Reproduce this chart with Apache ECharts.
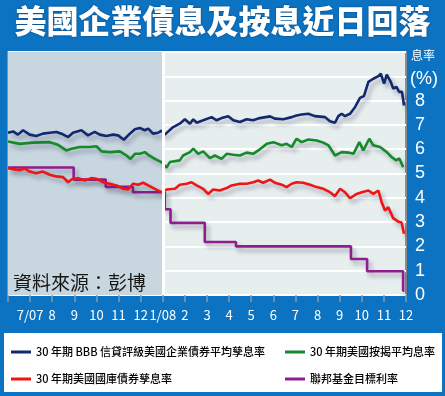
<!DOCTYPE html>
<html>
<head>
<meta charset="utf-8">
<script src="https://cdn.jsdelivr.net/npm/echarts@6/dist/echarts.min.js"></script>
<style>
html,body{margin:0;padding:0;background:#0b73c2;}
#c{width:445px;height:396px;}
</style>
</head>
<body>
<div id="c"></div>
<script>
// x positions are in months since the chart's left edge (tick 1 = 7/07, tick 7 = 1/08, tick 18 = 12/08)
const monthLabels = ['', '7/07', '8', '9', '10', '11', '12', '1/08', '2', '3', '4', '5', '6', '7', '8', '9', '10', '11', '12'];
const yLabels = ['0', '1', '2', '3', '4', '5', '6', '7', '8', '', ''];

const seriesNames = [
  '30 年期 BBB 信貸評級美國企業債券平均孳息率',
  '30 年期美國按揭平均息率',
  '30 年期美國國庫債券孳息率',
  '聯邦基金目標利率'
];

const bbbData = [[0.00,6.68],[0.23,6.73],[0.45,6.60],[0.68,6.78],[0.98,6.60],[1.28,6.54],[1.58,6.64],[1.89,6.68],[2.19,6.71],[2.42,6.64],[2.72,6.50],[2.94,6.68],[3.32,6.78],[3.62,6.57],[3.92,6.71],[4.15,6.60],[4.45,6.54],[4.75,6.60],[4.98,6.57],[5.24,6.39],[5.51,6.64],[5.74,6.82],[5.96,6.87],[6.19,6.78],[6.34,6.85],[6.56,6.64],[6.79,6.68],[6.95,6.76],[7.09,6.60],[7.47,6.91],[7.77,7.05],[8.00,7.23],[8.23,7.05],[8.38,7.23],[8.53,7.09],[8.83,7.19],[9.21,7.32],[9.43,7.19],[9.66,7.28],[9.96,7.36],[10.19,7.19],[10.49,7.12],[10.79,7.23],[11.09,7.19],[11.39,7.28],[11.85,7.35],[12.07,7.26],[12.45,7.23],[12.83,7.32],[13.05,7.39],[13.28,7.43],[13.58,7.46],[13.88,7.36],[14.34,7.32],[14.56,7.15],[14.79,7.09],[14.94,7.36],[15.09,7.46],[15.24,7.36],[15.47,7.46],[15.70,7.74],[15.92,8.11],[16.10,8.19],[16.30,8.77],[16.52,8.90],[16.75,9.01],[16.86,9.11],[17.01,8.70],[17.13,9.07],[17.31,8.77],[17.42,8.50],[17.57,8.56],[17.69,8.36],[17.82,8.36],[17.91,7.80]];

const mortgageData = [[0.00,6.32],[0.53,6.22],[1.13,6.27],[1.89,6.29],[2.26,6.18],[2.64,5.95],[2.87,6.02],[3.25,6.09],[3.70,6.09],[4.00,6.12],[4.23,5.91],[4.60,5.88],[5.06,5.91],[5.36,5.74],[5.54,5.60],[5.74,5.81],[5.96,5.81],[6.19,5.88],[6.34,5.77],[6.64,5.60],[6.94,5.47],[7.17,5.24],[7.32,5.47],[7.77,5.54],[7.92,5.74],[8.23,5.88],[8.38,6.02],[8.60,5.81],[8.83,5.91],[9.13,5.63],[9.36,5.74],[9.66,5.60],[9.89,5.81],[10.19,5.77],[10.49,5.74],[10.79,5.86],[11.09,5.81],[11.32,5.95],[11.70,6.22],[12.00,6.29],[12.38,6.16],[12.60,6.22],[12.83,6.09],[13.05,6.43],[13.28,6.29],[13.58,6.40],[13.96,6.36],[14.26,6.27],[14.49,6.16],[14.79,5.74],[15.09,5.88],[15.39,5.86],[15.62,5.81],[15.89,6.29],[16.07,5.95],[16.34,6.43],[16.52,6.16],[16.82,6.09],[17.13,5.88],[17.36,5.67],[17.56,5.54],[17.70,5.62],[17.87,5.26]];

const treasuryData = [[0.00,5.22],[0.30,5.17],[0.53,5.13],[0.76,5.20],[0.98,5.08],[1.28,5.01],[1.58,5.08],[1.89,4.95],[2.19,4.88],[2.49,4.85],[2.72,4.64],[2.87,4.75],[3.17,4.81],[3.47,4.71],[3.77,4.81],[4.00,4.78],[4.30,4.64],[4.60,4.58],[4.91,4.51],[5.21,4.37],[5.43,4.34],[5.66,4.58],[5.89,4.54],[6.11,4.62],[6.34,4.51],[6.64,4.37],[6.94,4.23],[7.17,4.34],[7.55,4.37],[7.77,4.54],[8.08,4.58],[8.30,4.64],[8.53,4.51],[8.83,4.37],[9.05,4.16],[9.28,4.34],[9.58,4.30],[9.89,4.40],[10.11,4.51],[10.49,4.58],[10.79,4.58],[11.09,4.64],[11.32,4.71],[11.54,4.62],[11.85,4.75],[12.07,4.62],[12.38,4.54],[12.60,4.44],[12.83,4.58],[13.05,4.64],[13.35,4.62],[13.66,4.54],[13.96,4.44],[14.26,4.37],[14.56,4.23],[14.79,4.07],[15.02,4.37],[15.24,4.23],[15.47,3.98],[15.77,4.16],[16.00,4.23],[16.30,4.30],[16.52,4.16],[16.75,4.30],[16.90,3.82],[17.05,3.48],[17.20,3.61],[17.42,3.16],[17.69,3.00],[17.80,2.98],[17.91,2.52]];

const fedFundsData = [[0,5.25],[2.97,4.75],[4.42,4.45],[5.65,4.23],[7.09,3.53],[7.35,2.97],[8.90,2.18],[10.31,2.00],[15.51,1.48],[16.24,0.98],[17.87,0.18],[17.93,0.18]];

const shadeRange = [0, 7]; // 2007 part of the chart (before 1/08)

const colors = ['#13286f', '#168a2a', '#f01414', '#8e1d8e'];
const cjk = "'Noto Sans CJK TC',sans-serif";

const chart = echarts.init(document.getElementById('c'), null, {renderer: 'canvas'});

const lineShadow = {shadowColor: 'rgba(40,50,80,0.35)', shadowBlur: 4, shadowOffsetX: 3, shadowOffsetY: 4};

function mkLine(name, data, color, extra) {
  return Object.assign({
    name: name,
    type: 'line',
    data: data,
    showSymbol: false,
    symbol: 'none',
    color: color,
    lineStyle: Object.assign({width: 2.6, color: color}, lineShadow),
    animation: false,
    z: 3
  }, extra || {});
}

const legendText = {fontSize: 11, lineHeight: 16, color: '#000', fontFamily: cjk, fontWeight: 500};

chart.setOption({
  backgroundColor: '#0b73c2',
  animation: false,
  grid: {left: 8, right: 39, top: 52, bottom: 101, show: true, backgroundColor: '#e7eeee', borderColor: '#8e8e8e', borderWidth: 2},
  xAxis: {
    type: 'value', min: 0, max: 18, interval: 1,
    axisLine: {show: false},
    axisTick: {show: true, length: 7, lineStyle: {color: '#8b9bab', width: 1.5}},
    splitLine: {show: false},
    axisLabel: {color: '#fff', fontSize: 13, margin: 14, fontFamily: cjk, hideOverlap: false,
      formatter: v => monthLabels[Math.round(v)]}
  },
  yAxis: {
    type: 'value', position: 'right', min: 0, max: 10, interval: 1,
    axisLine: {show: false}, axisTick: {show: false},
    splitLine: {show: true, lineStyle: {color: '#ffffff', width: 2}},
    axisLabel: {color: '#fff', fontSize: 18, margin: 9, fontFamily: "'Liberation Sans',Arial,sans-serif",
      formatter: v => yLabels[Math.round(v)]}
  },
  legend: [
    {data: [seriesNames[0], seriesNames[2]], left: 11, top: 344, orient: 'vertical', itemWidth: 20, itemHeight: 3, icon: 'rect', itemGap: 11, padding: 0, textStyle: legendText, selectedMode: false},
    {data: [seriesNames[1], seriesNames[3]], left: 285, top: 344, orient: 'vertical', itemWidth: 20, itemHeight: 3, icon: 'rect', itemGap: 11, padding: 0, textStyle: legendText, selectedMode: false}
  ],
  graphic: [
    {type: 'rect', left: 4, top: 333, shape: {width: 438, height: 59}, style: {fill: '#ffffff'}, z: -1},
    {type: 'text', left: 'center', top: 5, style: {text: '美國企業債息及按息近日回落', fill: '#ffffff', font: "900 32px 'Noto Sans CJK TC'", textShadowColor: 'rgba(0,30,70,0.6)', textShadowBlur: 2}},
    {type: 'text', left: 411, top: 49, style: {text: '息率', fill: '#ffffff', font: "12px 'Noto Sans CJK TC'"}},
    {type: 'text', left: 410, top: 70, style: {text: '(%)', fill: '#ffffff', font: "18px 'Liberation Sans',Arial,sans-serif"}},
    {type: 'text', left: 13, top: 273, z: 10, style: {text: '資料來源：彭博', fill: '#161616', font: "19px 'Noto Sans CJK TC'"}}
  ],
  series: [
    mkLine(seriesNames[3], fedFundsData, colors[3], {step: 'end', z: 2,
      markArea: {silent: true, itemStyle: {color: '#c7d6df'}, data: [[{xAxis: shadeRange[0]}, {xAxis: shadeRange[1]}]]},
      markLine: {silent: true, symbol: 'none', label: {show: false}, lineStyle: {color: '#ffffff', width: 3, type: 'solid', shadowBlur: 0, shadowOffsetX: 0, shadowOffsetY: 0}, data: [{xAxis: shadeRange[1]}]}
    }),
    mkLine(seriesNames[2], treasuryData, colors[2]),
    mkLine(seriesNames[1], mortgageData, colors[1]),
    mkLine(seriesNames[0], bbbData, colors[0])
  ]
});
</script>
</body>
</html>
